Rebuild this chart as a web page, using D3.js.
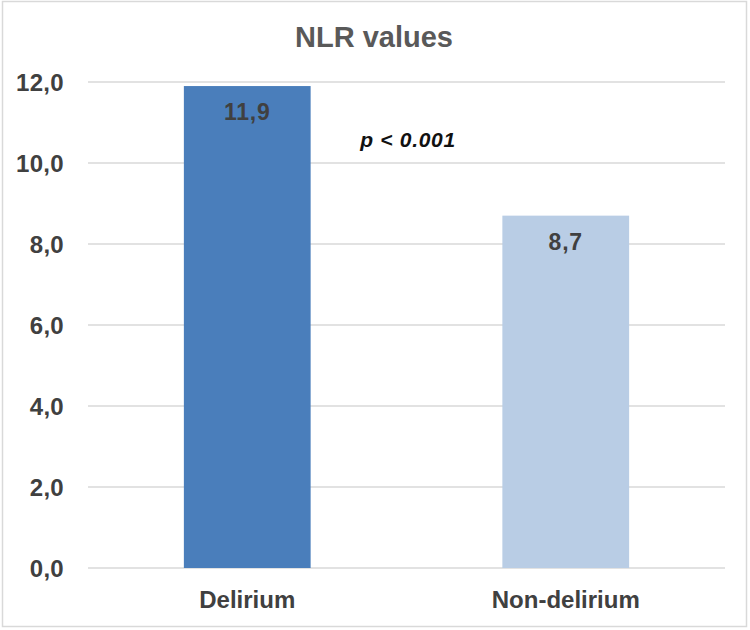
<!DOCTYPE html>
<html><head><meta charset="utf-8">
<script src="https://cdn.jsdelivr.net/npm/d3@7"></script>
<style>html,body{margin:0;padding:0;background:#fff;}svg{display:block;}</style>
</head><body>
<script>
const categories = ["Delirium", "Non-delirium"];
const values = [11.9, 8.7];
const barColors = ["#4a7ebb", "#b9cde5"];
const tickValues = [0, 2, 4, 6, 8, 10, 12];
const titleText = "NLR values";
const annotation = "p < 0.001";

const W = 750, H = 630;
const svg = d3.select("body").append("svg").attr("width", W).attr("height", H);

svg.append("rect").attr("x", 2.5).attr("y", 1.5).attr("width", 744).attr("height", 625)
  .attr("fill", "#fff").attr("stroke", "#d9d9d9").attr("stroke-width", 1.5);

const x = d3.scaleBand().domain(categories).range([88, 725]).paddingInner(0.602).paddingOuter(0.301);
const y = d3.scaleLinear().domain([0, 12]).range([568, 82]);

const font = "'Liberation Sans', Arial, Helvetica, sans-serif";
const fmt = d => d3.format(".1f")(d).replace(".", ",");

// gridlines
svg.append("g").selectAll("line").data(tickValues).join("line")
  .attr("x1", 88).attr("x2", 725)
  .attr("y1", d => y(d)).attr("y2", d => y(d))
  .attr("stroke", "#d9d9d9").attr("stroke-width", 1.5);

// y axis labels
const yAxis = d3.axisLeft(y).tickValues(tickValues).tickFormat(fmt).tickSize(0).tickPadding(0);
const gy = svg.append("g").attr("transform", "translate(64,0)").call(yAxis);
gy.select(".domain").remove();
gy.selectAll("text").attr("font-family", font).attr("font-size", 24).attr("font-weight", "bold")
  .attr("fill", "#404040").attr("dy", "0.36em").attr("letter-spacing", 0.3);

// bars
svg.append("g").selectAll("rect").data(values).join("rect")
  .attr("x", (d, i) => x(categories[i]))
  .attr("width", x.bandwidth())
  .attr("y", d => y(d))
  .attr("height", d => y(0) - y(d))
  .attr("fill", (d, i) => barColors[i]);

// data labels
svg.append("g").selectAll("text").data(values).join("text")
  .attr("x", (d, i) => x(categories[i]) + x.bandwidth() / 2)
  .attr("y", d => y(d) + 34)
  .attr("text-anchor", "middle")
  .attr("font-family", font).attr("font-size", 23).attr("font-weight", "bold")
  .attr("fill", "#404040").attr("letter-spacing", 0.8)
  .text(d => fmt(d));

// x axis labels
const xAxis = d3.axisBottom(x).tickSize(0).tickPadding(0);
const gx = svg.append("g").attr("transform", "translate(0,608)").call(xAxis);
gx.select(".domain").remove();
gx.selectAll("text").attr("font-family", font).attr("font-size", 24).attr("font-weight", "bold")
  .attr("fill", "#404040").attr("dy", 0);

// title
svg.append("text").attr("x", 374).attr("y", 47)
  .attr("text-anchor", "middle").attr("font-family", font).attr("font-size", 29)
  .attr("font-weight", "bold").attr("fill", "#595959").text(titleText);

// annotation
svg.append("text").attr("x", 408).attr("y", 147)
  .attr("text-anchor", "middle").attr("font-family", font).attr("font-size", 21)
  .attr("font-weight", "bold").attr("font-style", "italic").attr("letter-spacing", 0.7)
  .attr("fill", "#111").text(annotation);
</script>
</body></html>
